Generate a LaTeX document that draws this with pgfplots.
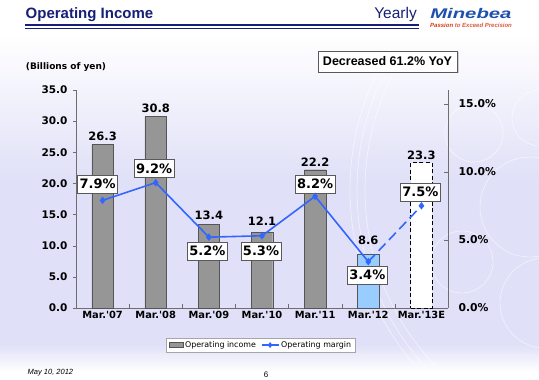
\documentclass[border=0pt]{standalone}
\usepackage{pgfplots}
\pgfplotsset{compat=1.18}
\usepackage{fontspec}
\setmainfont{DejaVu Sans}
\newfontfamily\arial{Liberation Sans}
\usetikzlibrary{shadows}
\definecolor{navy}{RGB}{22,32,120}
\definecolor{lav}{RGB}{224,224,248}
\definecolor{barg}{RGB}{150,150,150}
\definecolor{bared}{RGB}{85,85,85}
\definecolor{lblue}{RGB}{153,204,255}
\definecolor{lineb}{RGB}{51,102,255}
\definecolor{logob}{RGB}{30,80,175}
\definecolor{logor}{RGB}{215,60,25}
\definecolor{axg}{RGB}{110,110,110}
\tikzset{pbox/.style={draw=gray!70!black, fill=white, font=\bfseries\fontsize{13}{13}\selectfont,
    inner xsep=2pt, inner ysep=0pt, text height=9.5pt, text depth=0.5pt, minimum height=18pt}}
\begin{document}
\begin{tikzpicture}[x=1pt,y=1pt]
\useasboundingbox (0,0) rectangle (539,380);
% background
\fill[white] (0,0) rectangle (539,380);
\shade[top color=white, bottom color=lav] (0,345) rectangle (539,200);
\fill[lav] (0,200.5) rectangle (539,35);
\shade[top color=lav, bottom color=white] (0,35.5) rectangle (539,8);
\begin{scope}
\clip (0,8) rectangle (539,345);
\foreach \r in {255,263,270}{\draw[white, opacity=0.55, line width=0.7pt] (620,190) circle (\r);}
\draw[white, opacity=0.55, line width=0.7pt] (474,247) circle (29);
\draw[white, opacity=0.55, line width=0.7pt] (540,262) circle (28);
\draw[white, opacity=0.55, line width=0.7pt] (530,173) circle (50);
\draw[white, opacity=0.55, line width=0.7pt] (462,118) circle (31);
\draw[white, opacity=0.55, line width=0.7pt] (545,77) circle (45);
\end{scope}
% title rules
\draw[color=navy, line width=2.4pt] (25pt,355pt) -- (419pt,355pt);
\draw[color=navy, line width=1.1pt] (25pt,351.8pt) -- (419pt,351.8pt);
\node[anchor=base west, inner sep=0pt, font=\arial\bfseries\fontsize{15}{15}\selectfont, text=navy] at (25.5,361) {Operating Income};
\node[anchor=base east, inner sep=0pt, font=\arial\fontsize{15.5}{15}\selectfont, text=navy] at (417,361) {Yearly};
\node[anchor=base west, inner sep=0pt, font=\arial\bfseries\itshape\fontsize{14}{14}\selectfont, text=logob, xscale=1.45] at (430,361) {Minebea};
\node[anchor=base west, inner sep=0pt, font=\arial\bfseries\itshape\fontsize{6}{6}\selectfont] at (430,352.5) {\textcolor{logor}{Passion} \textcolor{logor!85!white}{to Exceed Precision}};
% YoY box
\node[draw=gray!70!black, fill=white, drop shadow={shadow xshift=1.5pt, shadow yshift=-1.5pt, fill=gray!70}, minimum width=139pt, minimum height=21pt, inner sep=0pt, font=\arial\bfseries\fontsize{12.5}{13}\selectfont] at (387.5,318.5) {Decreased 61.2\% YoY};
\node[anchor=center, inner sep=0pt, font=\bfseries\fontsize{9}{10}\selectfont] at (66,313) {(Billions of yen)};
% footer
\node[anchor=base west, inner sep=0pt, font=\arial\itshape\fontsize{7.5}{8}\selectfont] at (27.5,5.5) {May 10, 2012};
\node[anchor=base, inner sep=0pt, font=\arial\fontsize{8}{8}\selectfont] at (266,2.5) {6};

\pgfplotsset{mybar/.style={ybar, bar width=21.5pt, bar shift=0pt}}
\begin{axis}[
  at={(76pt,72pt)}, anchor=south west, scale only axis,
  width=372pt, height=218pt,
  xmin=-0.5, xmax=6.5, ymin=0, ymax=35,
  axis x line*=bottom, axis y line*=left,
  axis line style={draw=axg, line width=0.6pt, -},
  ytick={0,5,...,35},
  yticklabel={\pgfmathprintnumber[fixed,fixed zerofill,precision=1]{\tick}},
  yticklabel style={font=\bfseries\fontsize{10.5}{12}\selectfont, /pgf/number format/assume math mode=true, xshift=-2pt},
  xtick={0,...,6},
  xticklabels={Mar.\textquotesingle07,Mar.\textquotesingle08,Mar.\textquotesingle09,Mar.\textquotesingle10,Mar.\textquotesingle11,Mar.\textquotesingle12,Mar.\textquotesingle13E},
  xticklabel style={font=\bfseries\fontsize{9.9}{12}\selectfont},
  minor xtick={0.5,1.5,2.5,3.5,4.5,5.5},
  major x tick style={draw=none},
  minor x tick style={draw=axg},
  y tick style={draw=axg},
  xtick align=inside, ytick align=outside,
  major tick length=3pt, minor tick length=4pt,
  clip=false,
  legend style={at={(0.497,-0.17)}, anchor=center, legend columns=2, draw=gray!70, fill=white,
    font=\fontsize{7.9}{8}\selectfont, inner xsep=2pt, inner ysep=1.5pt,
    /tikz/every even column/.append style={column sep=3pt}},
]
\addplot[mybar, fill=barg, draw=bared,
  legend image code/.code={\draw[fill=barg, draw=bared] (0pt,-2.5pt) rectangle (14pt,2.5pt);}]
  coordinates {(0,26.3) (1,30.8) (2,13.4) (3,12.1) (4,22.2)};
\addlegendentry{Operating income}
\addplot[mybar, fill=lblue, draw=bared, forget plot] coordinates {(5,8.6)};
\addplot[mybar, fill=white, draw=black, dash pattern=on 4pt off 2.5pt, line width=0.8pt, forget plot] coordinates {(6,23.3)};
\addlegendimage{lineb, line width=1.2pt, mark=diamond*, mark size=2pt}
\addlegendentry{Operating margin}
\begin{scope}[every node/.style={anchor=south, inner sep=0pt, font=\bfseries\fontsize{11.5}{12}\selectfont}]
\node[yshift=3.5pt] at (axis cs:0,26.3) {26.3};
\node[yshift=3.5pt] at (axis cs:1,30.8) {30.8};
\node[yshift=4.5pt] at (axis cs:2,13.4) {13.4};
\node[yshift=6.5pt] at (axis cs:3,12.1) {12.1};
\node[yshift=3.5pt] at (axis cs:4,22.2) {22.2};
\node[yshift=9.5pt] at (axis cs:5,8.6) {8.6};
\node[yshift=3.5pt] at (axis cs:6,23.3) {23.3};
\end{scope}
\end{axis}

\begin{axis}[
  at={(76pt,72pt)}, anchor=south west, scale only axis,
  width=372pt, height=218pt,
  xmin=-0.5, xmax=6.5, ymin=0, ymax=16,
  axis x line=none, axis y line*=right,
  axis line style={draw=axg, line width=0.6pt, -},
  ytick={0,5,10,15},
  yticklabel={\pgfmathprintnumber[fixed,fixed zerofill,precision=1]{\tick}\%},
  yticklabel style={font=\bfseries\fontsize{10.8}{12}\selectfont, /pgf/number format/assume math mode=true, xshift=7pt},
  y tick style={draw=axg},
  ytick align=inside, major tick length=3.5pt,
  clip=false,
]
\addplot[lineb, line width=1.6pt, mark=diamond*, mark size=2.5pt]
  coordinates {(0,7.9) (1,9.2) (2,5.2) (3,5.3) (4,8.2) (5,3.4)};
\addplot[lineb, line width=1.6pt, dash pattern=on 10pt off 5pt, mark=diamond*, mark size=2.5pt, mark indices={2}, mark options={solid}]
  coordinates {(5,3.4) (6,7.5)};
\node[pbox, xshift=-5pt, yshift=16pt] at (axis cs:0,7.9) {7.9\%};
\node[pbox, xshift=-1.5pt, yshift=14pt] at (axis cs:1,9.2) {9.2\%};
\node[pbox, xshift=-1.5pt, yshift=-14pt] at (axis cs:2,5.2) {5.2\%};
\node[pbox, xshift=-1pt, yshift=-15pt] at (axis cs:3,5.3) {5.3\%};
\node[pbox, xshift=0pt, yshift=12pt] at (axis cs:4,8.2) {8.2\%};
\node[pbox, xshift=-1pt, yshift=-13.3pt] at (axis cs:5,3.4) {3.4\%};
\node[pbox, xshift=-1pt, yshift=13.5pt] at (axis cs:6,7.5) {7.5\%};
\end{axis}
\end{tikzpicture}
\end{document}
